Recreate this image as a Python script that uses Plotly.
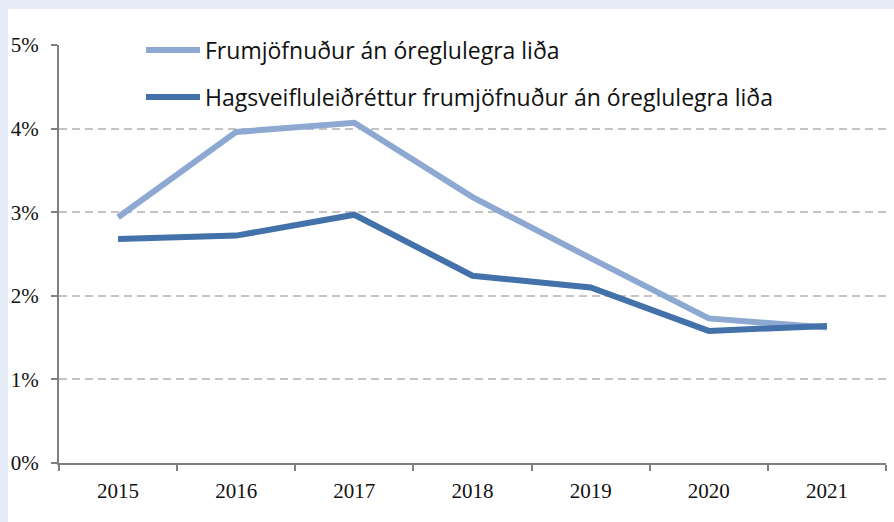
import plotly.graph_objects as go

years = ["2015", "2016", "2017", "2018", "2019", "2020", "2021"]
frumjofnudur = [2.94, 3.96, 4.07, 3.18, 2.45, 1.73, 1.62]
hagsveifluleidrettur = [2.68, 2.72, 2.97, 2.24, 2.10, 1.58, 1.64]
series_names = [
    "Frumjöfnuður án óreglulegra liða",
    "Hagsveifluleiðréttur frumjöfnuður án óreglulegra liða",
]
y_ticks = [0, 1, 2, 3, 4, 5]

LIGHT = "#8DA9D2"
DARK = "#4371A9"
W, H = 894, 522
ML, MR, MT, MB = 59, 8, 45, 59
PW, PH = W - ML - MR, H - MT - MB


def px_to_paper(x, y):
    return (x - ML) / PW, (H - MB - y) / PH


fig = go.Figure()
for vals, color, name in [(frumjofnudur, LIGHT, series_names[0]),
                          (hagsveifluleidrettur, DARK, series_names[1])]:
    fig.add_trace(go.Scatter(x=years, y=vals, mode="lines", name=name,
                             line=dict(color=color, width=6), showlegend=False))

shapes = []
# white panel on the light blue page
x0, y1 = px_to_paper(8, 9)
x1, y0 = px_to_paper(W + 2, H + 2)
shapes.append(dict(type="rect", xref="paper", yref="paper", x0=x0, x1=x1, y0=y0, y1=y1,
                   fillcolor="white", line=dict(width=0), layer="below"))

annotations = []
for i, (name, color) in enumerate(zip(series_names, [LIGHT, DARK])):
    ypx = 50 + i * 47
    lx0, ly = px_to_paper(146, ypx)
    lx1, _ = px_to_paper(200, ypx)
    shapes.append(dict(type="line", xref="paper", yref="paper", x0=lx0, x1=lx1, y0=ly, y1=ly,
                       line=dict(color=color, width=6)))
    tx, ty = px_to_paper(203, ypx)
    annotations.append(dict(xref="paper", yref="paper", x=tx, y=ty, text=name,
                            showarrow=False, xanchor="left", yanchor="middle",
                            font=dict(family="Open Sans", size=23, color="#111111")))

fig.update_layout(
    width=W, height=H,
    margin=dict(l=ML, r=MR, t=MT, b=MB, pad=0),
    paper_bgcolor="#E6EDF8",
    plot_bgcolor="white",
    shapes=shapes,
    annotations=annotations,
    xaxis=dict(
        type="category", range=[-0.5, 6.5], tickson="boundaries",
        ticks="outside", ticklen=6, tickwidth=2, tickcolor="#808080",
        showline=True, linecolor="#808080", linewidth=2, showgrid=False,
        ticklabelstandoff=8,
        tickfont=dict(family="Liberation Serif", size=21, color="#111111"),
    ),
    yaxis=dict(
        range=[0, 5], tickvals=y_ticks, ticktext=[f"{v}%" for v in y_ticks],
        ticks="outside", ticklen=6, tickwidth=2, tickcolor="#808080",
        showline=True, linecolor="#808080", linewidth=2,
        showgrid=True, gridcolor="#C4C4C4", gridwidth=1.5, griddash="8px,5px",
        zeroline=False, ticklabelstandoff=8,
        tickfont=dict(family="Liberation Serif", size=21, color="#111111"),
    ),
)

fig.write_html("out.html")
